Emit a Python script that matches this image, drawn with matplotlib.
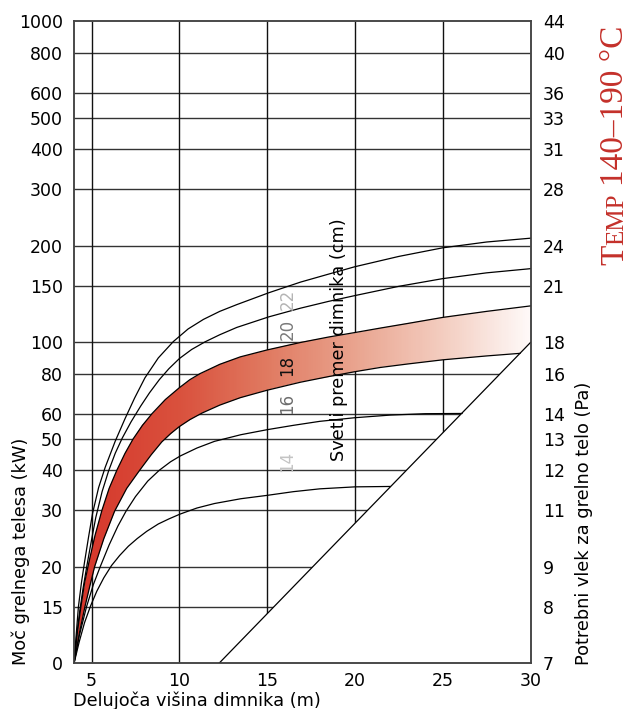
import numpy as np
import matplotlib
matplotlib.use('Agg')
import matplotlib.pyplot as plt
from matplotlib.colors import LinearSegmentedColormap
from matplotlib.patches import Polygon

# heating power (kW) vs. effective chimney height (m), one curve per inner diameter (cm)
d22_x = [4, 4.12, 4.25, 4.42, 4.6, 4.83, 5.06, 5.4, 5.78, 6.35, 6.9, 7.45, 8.04, 8.8, 9.66, 10.5,
         11.37, 12.3, 13.27, 15.1, 16.9, 18.5, 20, 22.5, 25, 27.5, 30]
d22_y = [10, 12.2, 15, 17.8, 20.7, 24.8, 29.4, 35.3, 40.9, 49.3, 57.8, 67.1, 77.6, 89.5, 100.7, 110.2,
         118, 125, 131.2, 142.9, 154.2, 163.3, 172.2, 185.4, 197.2, 205.6, 211.3]

d20_x = [4, 4.15, 4.33, 4.52, 4.75, 5.0, 5.24, 5.6, 5.97, 6.35, 6.75, 7.25, 7.8, 8.3, 8.86, 9.4, 10,
         10.7, 11.47, 12.3, 13.27, 15.1, 16.9, 18.5, 20, 22.5, 25, 27.5, 30]
d20_y = [10, 12.2, 14.6, 17.2, 20.4, 24.3, 28.5, 34.3, 39.8, 45.2, 50.4, 56.6, 63.4, 69.7, 76.6, 82.8, 89.1,
         95.1, 100.5, 105.7, 111.4, 120.2, 127.9, 134.3, 140, 149.6, 158.1, 164.8, 169.8]

d18_up_x = [4, 4.2, 4.39, 4.6, 4.86, 5.2, 5.59, 6.0, 6.44, 6.9, 7.36, 7.9, 8.44, 9.2, 10, 10.6, 11.18,
            12.3, 13.47, 15, 16.9, 18.5, 20, 21.45, 23, 25, 27.5, 30]
d18_up_y = [10, 12.6, 15, 17.8, 20.8, 25.1, 30, 35.1, 40, 45.1, 50, 55.2, 60, 66.4, 72.3, 76.6, 80,
            85.5, 90.2, 94.8, 100, 104, 107.4, 110.9, 114.6, 119.7, 125, 130]

d18_lo_x = [4, 4.3, 4.62, 4.9, 5.17, 5.7, 6.31, 7.0, 7.77, 8.4, 9.0, 9.5, 10, 10.6, 11.3, 12.3, 13.47,
            15, 16.9, 18.5, 20, 21.45, 23, 25, 27.5, 29.4]
d18_lo_y = [10, 12.4, 15, 17.4, 20, 24.5, 29.8, 35.1, 40.2, 44.7, 49, 52, 54.7, 57.5, 60.3, 63.8, 67.3,
            71, 75.2, 78.3, 81.1, 83.6, 85.7, 88.3, 90.8, 92.5]

d16_x = [4, 4.3, 4.71, 5.1, 5.49, 6.0, 6.5, 6.96, 7.5, 8.2, 8.86, 9.5, 10.05, 11, 12, 13.5, 15, 16.5,
         18, 20, 22, 24, 26.1]
d16_y = [10, 12.2, 15, 17.6, 20, 23.4, 26.8, 29.8, 33.1, 37, 40, 42.5, 44.3, 46.9, 49.2, 51.6, 53.5, 55.2,
         56.8, 58.3, 59.4, 60, 60.1]

d14_x = [4, 4.3, 4.6, 4.94, 5.3, 5.7, 6.14, 6.6, 7.1, 7.6, 8.14, 8.8, 9.4, 10.04, 11, 12, 13.5, 15,
         16.5, 18, 20, 22]
d14_y = [10, 11.7, 13.4, 15.1, 16.8, 18.5, 20.2, 21.7, 23.2, 24.5, 25.8, 27.2, 28.2, 29.2, 30.5, 31.5,
         32.6, 33.4, 34.3, 35.0, 35.5, 35.6]

# lower limit line
diag_x = [12.25, 30]
diag_y = [10, 100]

diameters = ['22', '20', '18', '16', '14']
label_y = [136, 110, 85, 64.5, 42.6]
label_colors = ['#b4b4b4', '#7a7a7a', '#111111', '#6e6e6e', '#c4c4c4']

power_ticks = [10, 15, 20, 30, 40, 50, 60, 80, 100, 150, 200, 300, 400, 500, 600, 800, 1000]
power_labels = ['0', '15', '20', '30', '40', '50', '60', '80', '100', '150', '200', '300', '400',
                '500', '600', '800', '1000']
draft_labels = ['7', '8', '9', '11', '12', '13', '14', '16', '18', '21', '24', '28', '31', '33', '36',
                '40', '44']
height_ticks = [5, 10, 15, 20, 25, 30]

grid_col = '#333333'
red = '#c4302a'

fig = plt.figure(figsize=(6.32, 7.09), dpi=100)
ax = fig.add_axes([0.1171, 0.0642, 0.7223, 0.9055])
ax.set_yscale('log')
ax.set_xlim(4, 30)
ax.set_ylim(10, 1000)

# grid only above the diagonal
clip = Polygon([(4, 10), (diag_x[0], diag_y[0]), (diag_x[1], diag_y[1]), (30, 1000), (4, 1000)],
               transform=ax.transData)
for v in power_ticks[1:-1]:
    ln = ax.axhline(v, color=grid_col, lw=1.0, zorder=1)
    ln.set_clip_path(clip)
for v in height_ticks[:-1]:
    ln = ax.axvline(v, color='#111111', lw=1.0, zorder=1)
    ln.set_clip_path(clip)

# shaded band for 18 cm
band_cmap = LinearSegmentedColormap.from_list('band', [
    (0.0, '#d5352a'), (6 / 26, '#d9513d'), (11 / 26, '#e07a61'),
    (16 / 26, '#e9a48f'), (21 / 26, '#f3cdc0'), (1.0, '#fef9f8')])
xs = np.linspace(4, 30, 261)
mesh = ax.pcolormesh(xs, [10, 1000], xs[:-1][None, :], cmap=band_cmap, vmin=4, vmax=30,
                     shading='flat', zorder=2, edgecolors='none')
band_x = d18_up_x + [diag_x[1]] + d18_lo_x[::-1]
band_y = d18_up_y + [diag_y[1]] + d18_lo_y[::-1]
band = ax.fill(band_x, band_y, facecolor='none', edgecolor='none')[0]
mesh.set_clip_path(band)

for cx, cy in [(d22_x, d22_y), (d20_x, d20_y), (d18_up_x, d18_up_y),
               (d18_lo_x, d18_lo_y), (d16_x, d16_y), (d14_x, d14_y)]:
    ax.plot(cx, cy, color='black', lw=0.9, zorder=3, solid_joinstyle='round')
ax.plot(diag_x, diag_y, color='black', lw=0.9, zorder=3)

for name, ly, c in zip(diameters, label_y, label_colors):
    ax.text(16.15, ly, name, rotation=90, ha='center', va='center', fontsize=12, color=c, zorder=4)
ax.text(19.07, 42.7, 'Svetli premer dimnika (cm)', rotation=90, ha='center', va='bottom',
        fontsize=12.8, color='black', zorder=4)

ax.set_xticks(height_ticks)
ax.set_xticklabels([str(t) for t in height_ticks])
ax.set_yticks(power_ticks)
ax.set_yticklabels(power_labels)
ax.yaxis.set_minor_locator(matplotlib.ticker.NullLocator())
ax.tick_params(axis='y', length=0, pad=8, labelsize=12.5)
ax.tick_params(axis='x', length=0, pad=6, labelsize=12.5)

ax2 = ax.twinx()
ax2.set_yscale('log')
ax2.set_ylim(10, 1000)
ax2.set_yticks(power_ticks)
ax2.set_yticklabels(draft_labels)
ax2.yaxis.set_minor_locator(matplotlib.ticker.NullLocator())
ax2.tick_params(axis='y', length=0, pad=9, labelsize=12.5)

for a in (ax, ax2):
    for s in a.spines.values():
        s.set_color('#444444')
        s.set_linewidth(1.1)

fig.text(21 / 632, 1 - 665 / 709, 'Moč grelnega telesa (kW)', rotation=90, ha='center', va='bottom',
         fontsize=12.8)
fig.text(584 / 632, 1 - 665 / 709, 'Potrebni vlek za grelno telo (Pa)', rotation=90, ha='center',
         va='bottom', fontsize=12.8)
fig.text(73 / 632, 1 - 701 / 709, 'Delujoča višina dimnika (m)', ha='left', va='center', fontsize=12.8)

# small-caps style title on the right, pieces stacked bottom to top
fig.canvas.draw()
renderer = fig.canvas.get_renderer()
ypix = 709 - 265
for s, size, gap in [('T', 24, 0), ('EMP', 18, 0), ('140–190 °C', 24, 7)]:
    ypix += gap
    t = fig.text(623 / 632, ypix / 709, s, rotation=90, rotation_mode='anchor', ha='left',
                 va='baseline', fontsize=size, family='Liberation Serif', color=red)
    ypix = t.get_window_extent(renderer).y1

fig.savefig('out.png', dpi=100)
